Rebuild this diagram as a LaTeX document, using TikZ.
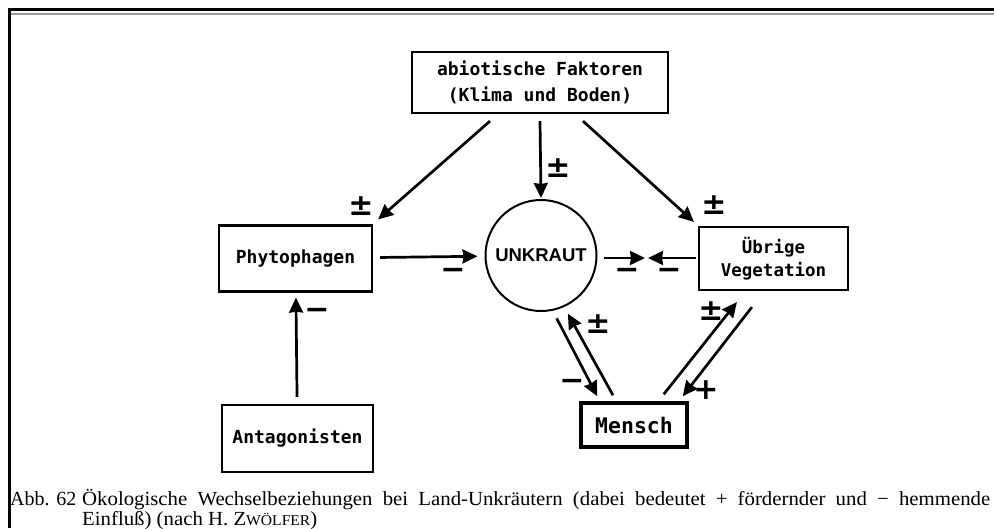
\documentclass[tikz,border=0pt]{standalone}
\usepackage{fontspec}
\setmainfont{Liberation Serif}
\newfontfamily\boxfont{DejaVu Sans Mono}
\newfontfamily\circfont{Liberation Sans}
\newfontfamily\signfont{DejaVu Sans}
\usetikzlibrary{arrows.meta,positioning}

\begin{document}
\begin{tikzpicture}[x=1pt, y=-1pt,
	basic/.style  = {draw, line width=2.2pt, rectangle, inner sep=0pt, align=center, font=\boxfont\bfseries\fontsize{18}{26}\selectfont},
	factor/.style = {basic, minimum width=256, minimum height=61},
	group/.style  = {basic, minimum width=153, minimum height=66},
	human/.style  = {basic, line width=3.5pt, minimum width=106, minimum height=44, font=\boxfont\bfseries\fontsize{21.5}{26}\selectfont},
	weed/.style   = {draw, circle, line width=2pt, minimum size=111, inner sep=0pt, font=\circfont\bfseries\fontsize{18.5}{18}\selectfont},
	sign/.style   = {inner sep=0pt, font=\signfont\bfseries\fontsize{30}{30}\selectfont},
	caption/.style= {anchor=base west, inner sep=0pt, font=\fontsize{20}{20}\selectfont},
	wide/.style   = {caption, font=\fontsize{20}{20}\selectfont\addfontfeature{FakeStretch=1.04}},
	link/.style   = {->, line width=2.7pt},
	>={Stealth[length=15pt,width=14pt,inset=1pt]}]

	% frame of the scanned page
	\useasboundingbox (0,0) rectangle (994,528);
	\draw[line width=3pt] (9,528) -- (9,9.5) -- (994,9.5);
	\draw[gray!80, line width=2pt] (11,13.8) -- (994,13.8);

	% the boxes and the circle
	\node[factor] (abiot) at (540,82.5) {abiotische Faktoren\\(Klima und Boden)};
	\node[group] (phyto) at (295.5,258.5) {Phytophagen};
	\node[weed] (unkraut) at (541,255.5) {UNKRAUT};
	\node[group, minimum width=149, minimum height=63, font=\boxfont\bfseries\fontsize{17.5}{23}\selectfont] (uebrig) at (773.5,258.5) {Übrige\\Vegetation};
	\node[group, minimum width=151, minimum height=67] (antag) at (297.5,438.5) {Antagonisten};
	\node[human] (mensch) at (634,425) {Mensch};

	% arrows from the abiotic factors
	\draw[link] ([shift={(-50,7)}]abiot.south) -- ([shift={(5,-5)}]phyto.north east);
	\draw[link] ([shift={(0,7)}]abiot.south) -- ([shift={(0,-1)}]unkraut.north);
	\draw[link] ([shift={(43,7)}]abiot.south) -- ([shift={(-4,-4)}]uebrig.north west);

	% arrows into and out of the weed
	\draw[link, shorten <=7pt, shorten >=7pt] (phyto) -- (unkraut);
	\draw[link, shorten <=7pt, shorten >=5pt] (antag) -- (phyto);
	\coordinate (meet) at (646.5,258);
	\draw[link] ([shift={(6,2.5)}]unkraut.east) -- ([shift={(-1.5,0)}]meet);
	\draw[link] ([shift={(-2,-0.5)}]uebrig.west) -- ([shift={(1.5,0)}]meet);

	% arrows to and from man
	\draw[link] ([shift={(2,8)}]unkraut.-76) -- ([shift={(18,-5)}]mensch.north west);
	\draw[link] ([shift={(-21,-6)}]mensch.north) -- ([shift={(3,7)}]unkraut.-65);
	\draw[link] ([shift={(-25,-7)}]mensch.north east) -- ([shift={(39,11)}]uebrig.south west);
	\draw[link] ([shift={(54,16)}]uebrig.south west) -- ([shift={(-6,-5)}]mensch.north east);

	% signs of the influences
	\foreach \name/\x/\y in {pm1/361/206, pm2/558/168, pm3/714/205, pm4/598/324, pm5/711/311}
		\node[sign] (\name) at (\x,\y) {±};
	\foreach \name/\x/\y in {mi1/453/274, mi2/627/274, mi3/669/274, mi4/317/314, mi5/572/385}
		\node[sign] (\name) at (\x,\y) {−};
	\node[sign] (pl1) at (706,390) {+};

	% caption
	\node[caption] (abb) at (10,505) {Abb. 62};
	\node[wide] (cap1) at (82,505) {\makebox[908pt][s]{Ökologische Wechselbeziehungen bei Land-Unkräutern (dabei bedeutet + fördernder und − hemmende}};
	\node[wide] (cap2) at (82,525) {Einfluß) (nach H. Z{\fontsize{15}{15}\selectfont WÖLFER})};

\end{tikzpicture}
\end{document}
